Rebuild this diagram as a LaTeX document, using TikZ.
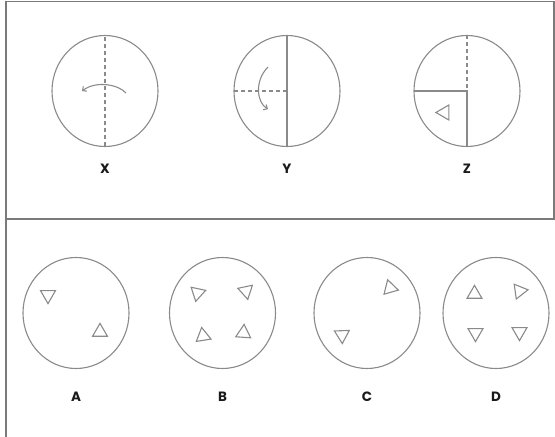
\documentclass[tikz,border=0pt]{standalone}
\usepackage{fontspec}
\newfontfamily\etiqueta{Poppins}
\usetikzlibrary{arrows.meta}
\definecolor{grisL}{HTML}{8A8A8A}
\definecolor{grisM}{HTML}{7A7A7A}
\definecolor{negroL}{HTML}{1A1A1A}
\newcommand{\tri}[2]{\draw[trazo] (#1) +(#2:8.6) -- +(#2+120:8.6) -- +(#2+240:8.6) -- cycle;}

\begin{document}
\begin{tikzpicture}[x=1pt,y=1pt,>={Straight Barb[length=3pt,width=6pt]},
  trazo/.style={grisL,line width=1.1pt},
  marco/.style={grisM,line width=1.8pt},
  guia/.style={grisL,line width=1.1pt,dash pattern=on 4pt off 3pt},
  letra/.style={font=\etiqueta\bfseries\fontsize{13.5}{15}\selectfont,text=negroL}]
  \useasboundingbox (0,0) rectangle (555,437);
  \draw[marco] (6,0) -- (6,435.5) -- (554,435.5) -- (554,218);
  \draw[marco] (6,218) -- (555,218);
  % X
  \draw[trazo] (105,346) ellipse[x radius=53,y radius=55.5];
  \draw[guia] (105,290.5) -- (105,401.5);
  \draw[trazo,->] (126,344) .. controls (119,352) and (97,357) .. (82,346);
  \node[letra] (etiqX) at (105,268) {X};
  % Y
  \draw[trazo] (287,346) ellipse[x radius=53,y radius=55.5];
  \draw[trazo] (287,290.5) -- (287,401.5);
  \draw[guia] (234,346) -- (287,346);
  \draw[trazo,->] (268,370) .. controls (254,356) and (257,334) .. (268,328);
  \node[letra] (etiqY) at (287,268) {Y};
  % Z
  \draw[trazo] (467,346) ellipse[x radius=53,y radius=55.5];
  \draw[guia] (467,401.5) -- (467,346);
  \draw[trazo] (414,346) -- (467,346) -- (467,290.5);
  \tri{444.5,324.5}{180}
  \node[letra] (etiqZ) at (467,268) {Z};
  % A
  \draw[trazo] (76,124) ellipse[x radius=53,y radius=55.5];
  \tri{48,142}{-90}
  \tri{100,105}{90}
  \node[letra] (etiqA) at (76,40) {A};
  % B
  \draw[trazo] (222.5,124) ellipse[x radius=53,y radius=55.5];
  \tri{197.5,144}{-102}
  \tri{246,146}{-78}
  \tri{203,101}{99}
  \tri{243.5,104}{86}
  \node[letra] (etiqB) at (222.5,40) {B};
  % C
  \draw[trazo] (367,124) ellipse[x radius=53,y radius=55.5];
  \tri{390,149}{106}
  \tri{342,102}{-88}
  \node[letra] (etiqC) at (367,40) {C};
  % D
  \draw[trazo] (496,124) ellipse[x radius=53,y radius=55.5];
  \tri{474.5,143}{90}
  \tri{519.5,146}{8}
  \tri{475.5,104}{-90}
  \tri{519.5,105}{-90}
  \node[letra] (etiqD) at (496,40) {D};
\end{tikzpicture}
\end{document}
